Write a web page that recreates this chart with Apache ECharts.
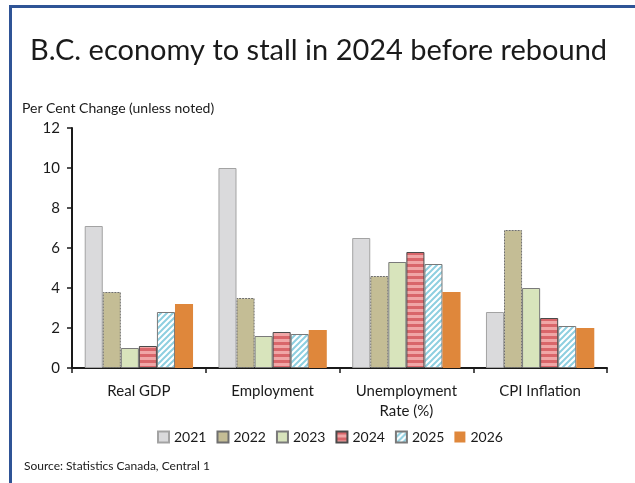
<!DOCTYPE html>
<html>
<head>
<meta charset="utf-8">
<script src="https://cdn.jsdelivr.net/npm/echarts@6/dist/echarts.min.js"></script>
<style>
  html, body { margin: 0; padding: 0; background: #ffffff; }
  #chart { width: 635px; height: 483px; }
</style>
</head>
<body>
<div id="chart"></div>
<script>
// Forecast indicators for British Columbia
const categories = ['Real GDP', 'Employment', 'Unemployment\nRate (%)', 'CPI Inflation'];
const years = ['2021', '2022', '2023', '2024', '2025', '2026'];
const values2021 = [7.1, 10.0, 6.5, 2.8];
const values2022 = [3.8, 3.5, 4.6, 6.9];
const values2023 = [1.0, 1.6, 5.3, 4.0];
const values2024 = [1.1, 1.8, 5.8, 2.5];
const values2025 = [2.8, 1.7, 5.2, 2.1];
const values2026 = [3.2, 1.9, 3.8, 2.0];
const yTicks = [0, 2, 4, 6, 8, 10, 12];

const FONT = 'Lato, "Open Sans", sans-serif';

// Horizontal stripe fill (2024)
function stripePattern() {
  const c = document.createElement('canvas');
  c.width = 6; c.height = 6;
  const g = c.getContext('2d');
  g.fillStyle = '#d9666a';
  g.fillRect(0, 0, 6, 6);
  g.fillStyle = '#f0a6a6';
  g.fillRect(0, 3, 6, 3);
  return { image: c, repeat: 'repeat' };
}

// Diagonal hatch fill (2025)
function hatchPattern() {
  const c = document.createElement('canvas');
  c.width = 6; c.height = 6;
  const g = c.getContext('2d');
  g.fillStyle = '#ffffff';
  g.fillRect(0, 0, 6, 6);
  g.strokeStyle = '#8ecfe0';
  g.lineWidth = 2;
  g.beginPath();
  g.moveTo(-1, 7); g.lineTo(7, -1);
  g.moveTo(-4, 4); g.lineTo(4, -4);
  g.moveTo(2, 10); g.lineTo(10, 2);
  g.stroke();
  return { image: c, repeat: 'repeat' };
}

const seriesData = [values2021, values2022, values2023, values2024, values2025, values2026];
const styles = [
  { color: '#dadadc', borderColor: '#a3a3a3', borderWidth: 1 },
  { color: '#c4bd95', borderColor: '#6f6f6f', borderWidth: 1, borderType: [2, 1] },
  { color: '#d8e4bc', borderColor: '#7a7a7a', borderWidth: 1 },
  { color: stripePattern(), borderColor: '#4a4a4a', borderWidth: 1 },
  { color: hatchPattern(), borderColor: '#7a7a7a', borderWidth: 1 },
  { color: '#df873b', borderWidth: 0 }
];

const series = years.map((y, i) => ({
  name: y,
  type: 'bar',
  data: seriesData[i],
  barGap: '0%',
  barCategoryGap: '19%',
  itemStyle: styles[i]
}));

const chart = echarts.init(document.getElementById('chart'), null, { renderer: 'canvas' });
chart.setOption({
  animation: false,
  backgroundColor: '#ffffff',
  title: [
    {
      text: 'B.C. economy to stall in 2024 before rebound',
      left: 25, top: 31,
      textStyle: { fontFamily: FONT, fontSize: 29, fontWeight: 'normal', color: '#1a1a1a' }
    },
    {
      text: 'Per Cent Change (unless noted)',
      left: 17, top: 96,
      textStyle: { fontFamily: FONT, fontSize: 14, fontWeight: 'normal', color: '#1a1a1a' }
    },
    {
      text: 'Source: Statistics Canada, Central 1',
      left: 19, top: 455,
      textStyle: { fontFamily: FONT, fontSize: 12, fontWeight: 'normal', color: '#1a1a1a' }
    }
  ],
  graphic: [
    {
      type: 'rect',
      shape: { x: 10.5, y: 6.5, width: 700, height: 600 },
      style: { fill: 'none', stroke: '#2f5496', lineWidth: 3 },
      silent: true
    }
  ],
  legend: {
    data: years,
    icon: 'rect',
    top: 425,
    left: 152,
    itemWidth: 11,
    itemHeight: 11,
    itemGap: 10,
    textStyle: { fontFamily: FONT, fontSize: 14, color: '#1a1a1a' }
  },
  grid: { left: 72, right: 28, top: 128, bottom: 115, containLabel: false },
  xAxis: {
    type: 'category',
    data: categories,
    axisLine: { lineStyle: { color: '#1a1a1a', width: 2 } },
    axisTick: { show: true, length: 5, lineStyle: { color: '#1a1a1a', width: 1.5 } },
    axisLabel: { fontFamily: FONT, fontSize: 15, color: '#1a1a1a', margin: 13, lineHeight: 20 }
  },
  yAxis: {
    type: 'value',
    min: yTicks[0],
    max: yTicks[yTicks.length - 1],
    interval: 2,
    splitLine: { show: false },
    axisLine: { show: true, lineStyle: { color: '#1a1a1a', width: 2 } },
    axisTick: { show: true, length: 5, lineStyle: { color: '#1a1a1a', width: 1.5 } },
    axisLabel: { fontFamily: FONT, fontSize: 15, color: '#1a1a1a', margin: 12 }
  },
  series: series
});
</script>
</body>
</html>
